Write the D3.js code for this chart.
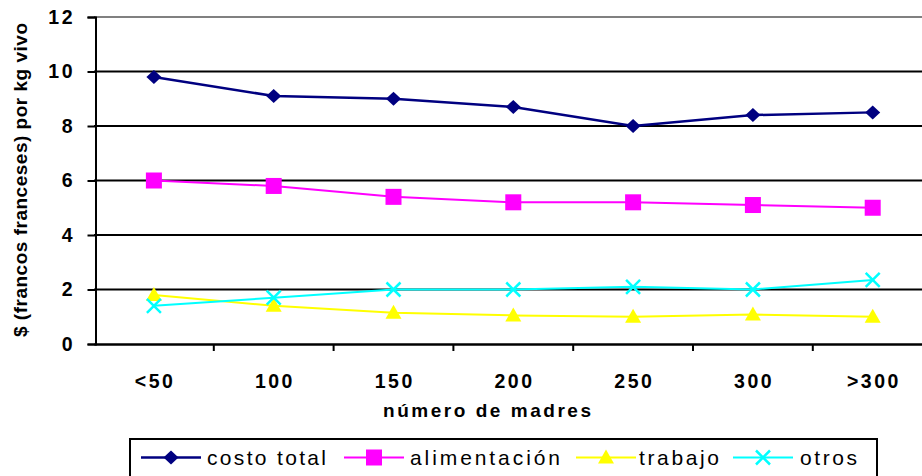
<!DOCTYPE html>
<html>
<head>
<meta charset="utf-8">
<script src="https://cdn.jsdelivr.net/npm/d3@7"></script>
<style>
  body { margin: 0; background: #fff; }
  svg { display: block; font-family: "Liberation Sans", Arial, sans-serif; }
</style>
</head>
<body>
<svg id="chart" width="922" height="476"></svg>
<script>
// ---- data ----
const categories = ["<50", "100", "150", "200", "250", "300", ">300"];
const costoTotal   = [9.8, 9.1, 9.0, 8.7, 8.0, 8.4, 8.5];
const alimentacion = [6.0, 5.8, 5.4, 5.2, 5.2, 5.1, 5.0];
const trabajo      = [1.8, 1.4, 1.15, 1.05, 1.0, 1.08, 1.0];
const otros        = [1.4, 1.7, 2.0, 2.0, 2.1, 2.0, 2.35];
const yTicks = [0, 2, 4, 6, 8, 10, 12];
const seriesNames = ["costo total", "alimentación", "trabajo", "otros"];
const xTitle = "número de madres";
const yTitle = "$ (francos franceses) por kg vivo";

const series = [
  { name: seriesNames[0], values: costoTotal,   color: "#000080", marker: "diamond",  width: 2.5 },
  { name: seriesNames[1], values: alimentacion, color: "#FF00FF", marker: "square",   width: 2 },
  { name: seriesNames[2], values: trabajo,      color: "#FFFF00", marker: "triangle", width: 2 },
  { name: seriesNames[3], values: otros,        color: "#00FFFF", marker: "cross",    width: 2 }
];

(function () {
const svg = d3.select("#chart");
const plotLeft = 94, band = 119.8;
const plotTop = 17, plotBottom = 344;

const x = d3.scaleBand().domain(categories).range([plotLeft, plotLeft + band * categories.length]);
const y = d3.scaleLinear().domain([0, 12]).range([plotBottom, plotTop]);
const cx = c => x(c) + x.bandwidth() / 2;

// gridlines
svg.append("g").selectAll("line").data(yTicks.filter(t => t > 0)).join("line")
  .attr("x1", plotLeft).attr("x2", 922)
  .attr("y1", d => y(d)).attr("y2", d => y(d))
  .attr("stroke", d => d === 12 ? "#808080" : "#000")
  .attr("stroke-width", 2);

// y axis
const yAxis = svg.append("g").attr("transform", `translate(${plotLeft + 1.5},0)`)
  .call(d3.axisLeft(y).tickValues(yTicks).tickSize(8).tickPadding(12).tickFormat(d3.format("d")));
yAxis.select(".domain").attr("stroke", "#000").attr("stroke-width", 2);
yAxis.selectAll(".tick line").attr("stroke", "#000").attr("stroke-width", 2);
yAxis.selectAll(".tick text")
  .attr("font-size", 19.5).attr("font-weight", "bold").attr("fill", "#000")
  .attr("font-family", "Liberation Sans, Arial, sans-serif")
  .attr("letter-spacing", 2.5).attr("dx", -0.5);

// x axis
const xAxis = svg.append("g").attr("transform", `translate(0,${plotBottom})`)
  .call(d3.axisBottom(x).tickSize(0).tickPadding(30));
xAxis.select(".domain").attr("stroke", "#000").attr("stroke-width", 2.5);
xAxis.selectAll(".tick text")
  .attr("font-size", 19.5).attr("font-weight", "bold").attr("fill", "#000")
  .attr("font-family", "Liberation Sans, Arial, sans-serif")
  .attr("letter-spacing", 2.5).attr("dx", 1.2);
// tick marks at band boundaries
svg.append("g").selectAll("line").data(categories.slice(1)).join("line")
  .attr("x1", d => x(d)).attr("x2", d => x(d))
  .attr("y1", plotBottom).attr("y2", plotBottom + 7)
  .attr("stroke", "#000").attr("stroke-width", 2);

// titles
svg.append("text").attr("x", 487).attr("y", 417)
  .attr("text-anchor", "middle").attr("font-size", 19).attr("font-weight", "bold")
  .attr("textLength", 208).attr("lengthAdjust", "spacing")
  .text(xTitle);
svg.append("text").attr("transform", "translate(27,180) rotate(-90)")
  .attr("text-anchor", "middle").attr("font-size", 19).attr("font-weight", "bold")
  .attr("textLength", 314).attr("lengthAdjust", "spacing")
  .text(yTitle);

// marker drawing
function drawMarker(g, type, color, px, py) {
  if (type === "diamond") {
    g.append("path").attr("d", `M${px},${py - 7}L${px + 7.5},${py}L${px},${py + 7}L${px - 7.5},${py}Z`).attr("fill", color);
  } else if (type === "square") {
    g.append("rect").attr("x", px - 8).attr("y", py - 8).attr("width", 16).attr("height", 16).attr("fill", color);
  } else if (type === "triangle") {
    g.append("path").attr("d", `M${px},${py - 8}L${px + 8},${py + 6}L${px - 8},${py + 6}Z`).attr("fill", color);
  } else if (type === "cross") {
    g.append("path").attr("d", `M${px - 7},${py - 7}L${px + 7},${py + 7}M${px + 7},${py - 7}L${px - 7},${py + 7}`)
      .attr("stroke", color).attr("stroke-width", 2.5).attr("fill", "none");
  }
}

const line = d3.line().x((d, i) => cx(categories[i])).y(d => y(d));
const plot = svg.append("g");
series.forEach(s => {
  plot.append("path").datum(s.values).attr("d", line)
    .attr("fill", "none").attr("stroke", s.color).attr("stroke-width", s.width);
});
series.forEach(s => {
  const g = plot.append("g");
  s.values.forEach((v, i) => drawMarker(g, s.marker, s.color, cx(categories[i]), y(v)));
});

// legend
const legend = svg.append("g");
legend.append("rect").attr("x", 130).attr("y", 439).attr("width", 747).attr("height", 50)
  .attr("fill", "#fff").attr("stroke", "#000").attr("stroke-width", 2);
const legendItems = [
  { lx: 141, tx: 207, tw: 119 },
  { lx: 344, tx: 410, tw: 150 },
  { lx: 576, tx: 639, tw: 80 },
  { lx: 733, tx: 800, tw: 57 }
];
series.forEach((s, i) => {
  const it = legendItems[i];
  const ly = 457.5;
  legend.append("line").attr("x1", it.lx).attr("x2", it.lx + 60).attr("y1", ly).attr("y2", ly)
    .attr("stroke", s.color).attr("stroke-width", s.width);
  drawMarker(legend, s.marker, s.color, it.lx + 30, ly);
  legend.append("text").attr("x", it.tx).attr("y", 465)
    .attr("font-size", 21).attr("fill", "#000")
    .attr("textLength", it.tw).attr("lengthAdjust", "spacing")
    .text(s.name);
});
})();
</script>
</body>
</html>
